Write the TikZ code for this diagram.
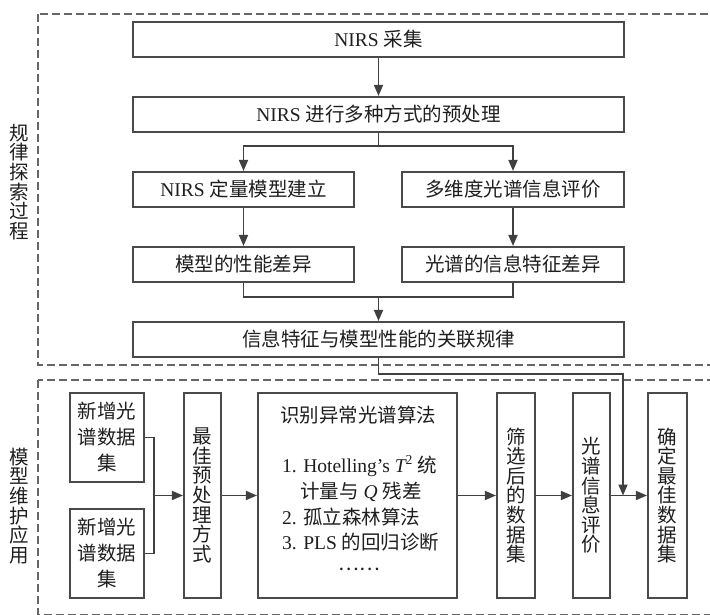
\documentclass[tikz,border=0pt]{standalone}
\usepackage{fontspec}
\setmainfont{Liberation Serif}
\newfontfamily\cjk{Noto Sans CJK SC}
\usetikzlibrary{arrows.meta}
\definecolor{boxc}{HTML}{4A4A4A}
\definecolor{linec}{HTML}{404040}
\definecolor{dashc}{HTML}{666666}
\definecolor{txt}{HTML}{1E1E1E}
\newcommand\myfs{\fontsize{19.5}{26}\selectfont}
\newcommand\myvfs{\fontsize{19.5}{19.6}\selectfont}
\begin{document}
\begin{tikzpicture}[x=1pt,y=-1pt,
  box/.style={draw=boxc, line width=2.1pt, inner sep=0pt, font=\myfs, text=txt, align=center},
  vbox/.style={box, font=\myvfs\cjk},
  lbl/.style={inner sep=0pt, font=\myvfs\cjk, text=txt, align=center},
  tx/.style={inner sep=0pt, font=\myfs, text=txt, anchor=base west},
  arr/.style={line width=1.7pt, draw=linec, -{Triangle[length=11pt,width=9pt]}},
  ln/.style={line width=1.7pt, draw=linec},
  dbox/.style={draw=dashc, line width=2pt, dash pattern=on 8pt off 4pt}]
\clip (0,0) rectangle (710,615);
% dashed group frames
\draw[dbox] (38,14) rectangle (730,365);
\draw[dbox] (38,380) rectangle (730,614.5);
% side labels
\node[lbl] (lab1) at (19,182) {规\\律\\探\\索\\过\\程};
\node[lbl] (lab2) at (19,506) {模\\型\\维\\护\\应\\用};
% upper part
\node[box, minimum width=491pt, minimum height=35pt] (acq) at (378.5,39.5) {NIRS {\cjk 采集}};
\node[box, minimum width=491pt, minimum height=35pt] (pre) at (378.5,114.5) {NIRS {\cjk 进行多种方式的预处理}};
\node[box, minimum width=221pt, minimum height=35pt] (quant) at (243.5,189.5) {NIRS {\cjk 定量模型建立}};
\node[box, minimum width=222pt, minimum height=35pt] (eval) at (513,189.5) {\cjk 多维度光谱信息评价};
\node[box, minimum width=221pt, minimum height=35pt] (perf) at (243.5,264.5) {\cjk 模型的性能差异};
\node[box, minimum width=222pt, minimum height=35pt] (info) at (513,264.5) {\cjk 光谱的信息特征差异};
\node[box, minimum width=491pt, minimum height=35pt] (rule) at (378.5,339.5) {\cjk 信息特征与模型性能的关联规律};
\draw[arr] (acq) -- (pre);
\coordinate (br) at (378.5,146);
\draw[arr] (pre.south) -- (br) -| (quant.north);
\draw[arr] (br) -| (eval.north);
\draw[arr] (quant) -- (perf);
\draw[arr] (eval) -- (info);
\coordinate (mg) at (378.5,297);
\draw[ln] (perf.south) |- (mg);
\draw[ln] (info.south) |- (mg);
\draw[arr] (mg) -- (rule.north);
% lower part
\node[box, minimum width=74pt, minimum height=89pt] (new1) at (107,437.5) {\cjk 新增光\\\cjk 谱数据\\\cjk 集};
\node[box, minimum width=74pt, minimum height=89pt] (new2) at (107,553.5) {\cjk 新增光\\\cjk 谱数据\\\cjk 集};
\node[vbox, minimum width=37pt, minimum height=205pt] (best) at (202.5,495.5) {最\\佳\\预\\处\\理\\方\\式};
\node[box, minimum width=199pt, minimum height=205pt] (det) at (357.5,495.5) {};
\node[vbox, minimum width=38pt, minimum height=205pt] (filt) at (516,495.5) {筛\\选\\后\\的\\数\\据\\集};
\node[vbox, minimum width=37pt, minimum height=205pt] (spev) at (591.5,495.5) {光\\谱\\信\\息\\评\\价};
\node[vbox, minimum width=39pt, minimum height=205pt] (final) at (667.5,495.5) {确\\定\\最\\佳\\数\\据\\集};
% text inside detection box
\node[tx] (t0) at (280,422) {\cjk 识别异常光谱算法};
\node[tx] (t1) at (282,472) {1. Hotelling’s {\itshape T}\textsuperscript{2} {\cjk 统}};
\node[tx] (t2) at (300,498) {{\cjk 计量与} {\itshape Q} {\cjk 残差}};
\node[tx] (t3) at (282,524) {2. {\cjk 孤立森林算法}};
\node[tx] (t4) at (282,549) {3. PLS {\cjk 的回归诊断}};
\node[inner sep=0pt, font=\myfs, text=txt] (t5) at (359,569) {\cjk ……};
% connectors lower
\coordinate (jn) at (154,495.5);
\draw[ln] (new1.east) -| (jn);
\draw[ln] (new2.east) -| (jn);
\draw[arr] (jn) -- (best.west);
\draw[arr] (best) -- (det);
\draw[arr] (det) -- (filt);
\draw[arr] (filt) -- (spev);
\draw[arr] (spev) -- (final);
\coordinate (tgt) at (623,495.5);
\draw[arr] (rule.south) -- ++(0,16) -| (tgt);
\end{tikzpicture}
\end{document}
